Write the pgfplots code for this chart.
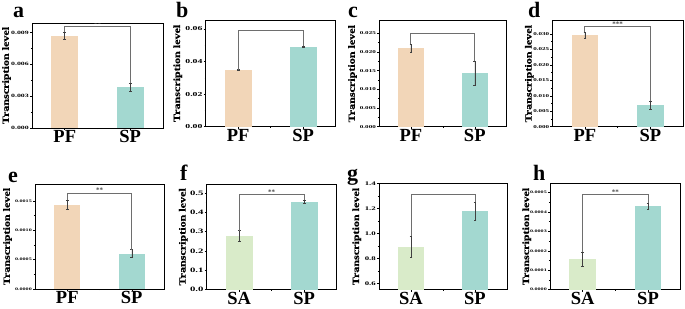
\documentclass[border=0pt]{standalone}
\usepackage{fontspec}
\setmainfont{Liberation Serif}
\newfontfamily\tickfont[FakeStretch=1.6]{Liberation Serif}
\newfontfamily\labfont[FakeStretch=1.27, FakeBold=0.5]{Liberation Serif}
\usepackage{pgfplots}
\pgfplotsset{compat=1.18}
\definecolor{pf}{HTML}{F2D6B8}
\definecolor{sp}{HTML}{A3D8D0}
\definecolor{sa}{HTML}{D9EBC9}
\definecolor{brk}{HTML}{6E6E6E}
\pgfplotsset{
  panel/.style={
    scale only axis, anchor=north west,
    axis line style={line width=0.9pt},
    xmin=0.5, xmax=2.5, xtick={1,2}, minor xtick={1.5},
    tick align=outside, tick pos=left,
    major tick length=2pt, minor tick length=1.2pt,
    every tick/.style={line width=0.5pt, black},
    minor y tick num=1,
    scaled y ticks=false,
    yticklabel style={/pgf/number format/fixed, /pgf/number format/fixed zerofill,
      /pgf/number format/assume math mode=true, inner sep=1pt},
    xticklabel style={font=\fontsize{18.5}{18.5}\selectfont\bfseries, inner sep=0pt, yshift=-0.3pt},
    ylabel={Transcription level},
    ylabel style={font=\labfont\bfseries\fontsize{9.5}{9.5}\selectfont, anchor=center},
  },
  tfont/.style={yticklabel style={font=\tickfont\bfseries\fontsize{#1}{#1}\selectfont}},
  ylab/.style={ylabel style={at={([xshift=-#1pt]axis description cs:0,0.5)}}},
  bar/.style={ybar, bar width=0.41, bar shift=0pt, draw=none, fill=#1,
    /pgfplots/error bars/y dir=both, /pgfplots/error bars/y explicit,
    /pgfplots/error bars/error bar style={line width=0.5pt, black!75},
    /pgfplots/error bars/error mark options={rotate=90, mark size=1.3pt, line width=0.5pt, black!75}},
}
\tikzset{
  bk/.style={no marks, line width=1pt, brk},
  st/.style={font=\fontsize{7}{7}\selectfont\bfseries, text=black!70, anchor=south, inner sep=0.3pt},
  lt/.style={anchor=base west, inner sep=0pt, font=\fontsize{22}{22}\selectfont\bfseries},
}
\begin{document}
\begin{tikzpicture}
\useasboundingbox (0,0) rectangle (685pt,-308pt);
% ---- a
\begin{axis}[panel, at={(32pt,-23pt)}, width=131pt, height=105pt,
  ymin=0, ymax=0.0099, ytick={0,0.003,0.006,0.009},
  yticklabel style={/pgf/number format/precision=3}, tfont=4.9, ylab=25.5,
  xticklabels={PF,SP}]
\addplot[bar=pf] coordinates {(1,0.0087) +- (0,0.00036)};
\addplot[bar=sp] coordinates {(2,0.00385) +- (0,0.0004)};
\addplot[bk] coordinates {(1,0.00906) (1,0.00953) (2,0.00953) (2,0.00425)};
\node[st] at (1.5,0.00953) {**};
\end{axis}
% ---- b
\begin{axis}[panel, at={(205.7pt,-20pt)}, width=130pt, height=106.7pt,
  ymin=0, ymax=0.0655, ytick={0,0.02,0.04,0.06},
  yticklabel style={/pgf/number format/precision=2}, tfont=6.1, ylab=28,
  xticklabels={PF,SP}]
\addplot[bar=pf] coordinates {(1,0.0347) +- (0,0.0003)};
\addplot[bar=sp] coordinates {(2,0.0490) +- (0,0.0003)};
\addplot[bk] coordinates {(1,0.0350) (1,0.0593) (2,0.0593) (2,0.0493)};
\end{axis}
% ---- c
\begin{axis}[panel, at={(379pt,-20.7pt)}, width=127.7pt, height=106pt,
  ymin=0, ymax=0.0284, ytick={0,0.005,0.01,0.015,0.02,0.025},
  yticklabel style={/pgf/number format/precision=3}, tfont=4.4, ylab=26.5,
  xticklabels={PF,SP}]
\addplot[bar=pf] coordinates {(1,0.0210) +- (0,0.0011)};
\addplot[bar=sp] coordinates {(2,0.0143) +- (0,0.0032)};
\addplot[bk] coordinates {(1,0.0221) (1,0.0250) (2,0.0250) (2,0.0175)};
\end{axis}
% ---- d
\begin{axis}[panel, at={(552.3pt,-20.7pt)}, width=130.7pt, height=106pt,
  ymin=0, ymax=0.0343, ytick={0,0.005,0.01,0.015,0.02,0.025,0.03},
  yticklabel style={/pgf/number format/precision=3}, tfont=4.4, ylab=23,
  xticklabels={PF,SP}]
\addplot[bar=pf] coordinates {(1,0.0297) +- (0,0.001)};
\addplot[bar=sp] coordinates {(2,0.0070) +- (0,0.0013)};
\addplot[bk] coordinates {(1,0.0307) (1,0.0324) (2,0.0324) (2,0.0083)};
\node[st] at (1.5,0.0324) {***};
\end{axis}
% ---- e
\begin{axis}[panel, at={(35pt,-184pt)}, width=129pt, height=105pt,
  ymin=0, ymax=0.00179, ytick={0,0.0005,0.001,0.0015},
  yticklabel style={/pgf/number format/precision=4}, tfont=3.8, ylab=27.5,
  xticklabels={PF,SP}]
\addplot[bar=pf] coordinates {(1,0.001437) +- (0,0.000077)};
\addplot[bar=sp] coordinates {(2,0.000602) +- (0,0.000068)};
\addplot[bk] coordinates {(1,0.001514) (1,0.001636) (2,0.001636) (2,0.00067)};
\node[st] at (1.5,0.001636) {**};
\end{axis}
% ---- f
\begin{axis}[panel, at={(206.7pt,-184pt)}, width=130pt, height=105.7pt,
  ymin=0, ymax=0.5466, ytick={0,0.1,0.2,0.3,0.4,0.5},
  yticklabel style={/pgf/number format/precision=1}, tfont=6.7, ylab=23.4,
  xticklabels={SA,SP}]
\addplot[bar=sa] coordinates {(1,0.278) +- (0,0.0276)};
\addplot[bar=sp] coordinates {(2,0.4537) +- (0,0.0086)};
\addplot[bk] coordinates {(1,0.3056) (1,0.491) (2,0.491) (2,0.4623)};
\node[st] at (1.5,0.491) {**};
\end{axis}
% ---- g
\begin{axis}[panel, at={(379pt,-183.3pt)}, width=128pt, height=106.4pt,
  ymin=0.549, ymax=1.4, ytick={0.6,0.8,1.0,1.2,1.4},
  yticklabel style={/pgf/number format/precision=1}, tfont=5.5, ylab=22.3,
  xticklabels={SA,SP}]
\addplot[bar=sa] coordinates {(1,0.8904) +- (0,0.085)};
\addplot[bar=sp] coordinates {(2,1.176) +- (0,0.074)};
\addplot[bk] coordinates {(1,0.9754) (1,1.314) (2,1.314) (2,1.25)};
\end{axis}
% ---- h
\begin{axis}[panel, at={(550pt,-183.3pt)}, width=130.7pt, height=106.4pt,
  ymin=0, ymax=0.000548, ytick={0,0.0001,0.0002,0.0003,0.0004,0.0005},
  yticklabel style={/pgf/number format/precision=4}, tfont=3.8, ylab=23.3,
  xticklabels={SA,SP}]
\addplot[bar=sa] coordinates {(1,0.000158) +- (0,0.0000353)};
\addplot[bar=sp] coordinates {(2,0.00043) +- (0,0.0000155)};
\addplot[bk] coordinates {(1,0.000193) (1,0.000489) (2,0.000489) (2,0.000446)};
\node[st] at (1.5,0.000489) {**};
\end{axis}
% ---- panel letters
\node[lt] at (13pt,-17pt) {a};
\node[lt] at (176pt,-17pt) {b};
\node[lt] at (348pt,-17pt) {c};
\node[lt] at (528pt,-17pt) {d};
\node[lt] at (8pt,-182pt) {e};
\node[lt] at (180pt,-180pt) {f};
\node[lt] at (347pt,-180pt) {g};
\node[lt] at (533pt,-180pt) {h};
\end{tikzpicture}
\end{document}
